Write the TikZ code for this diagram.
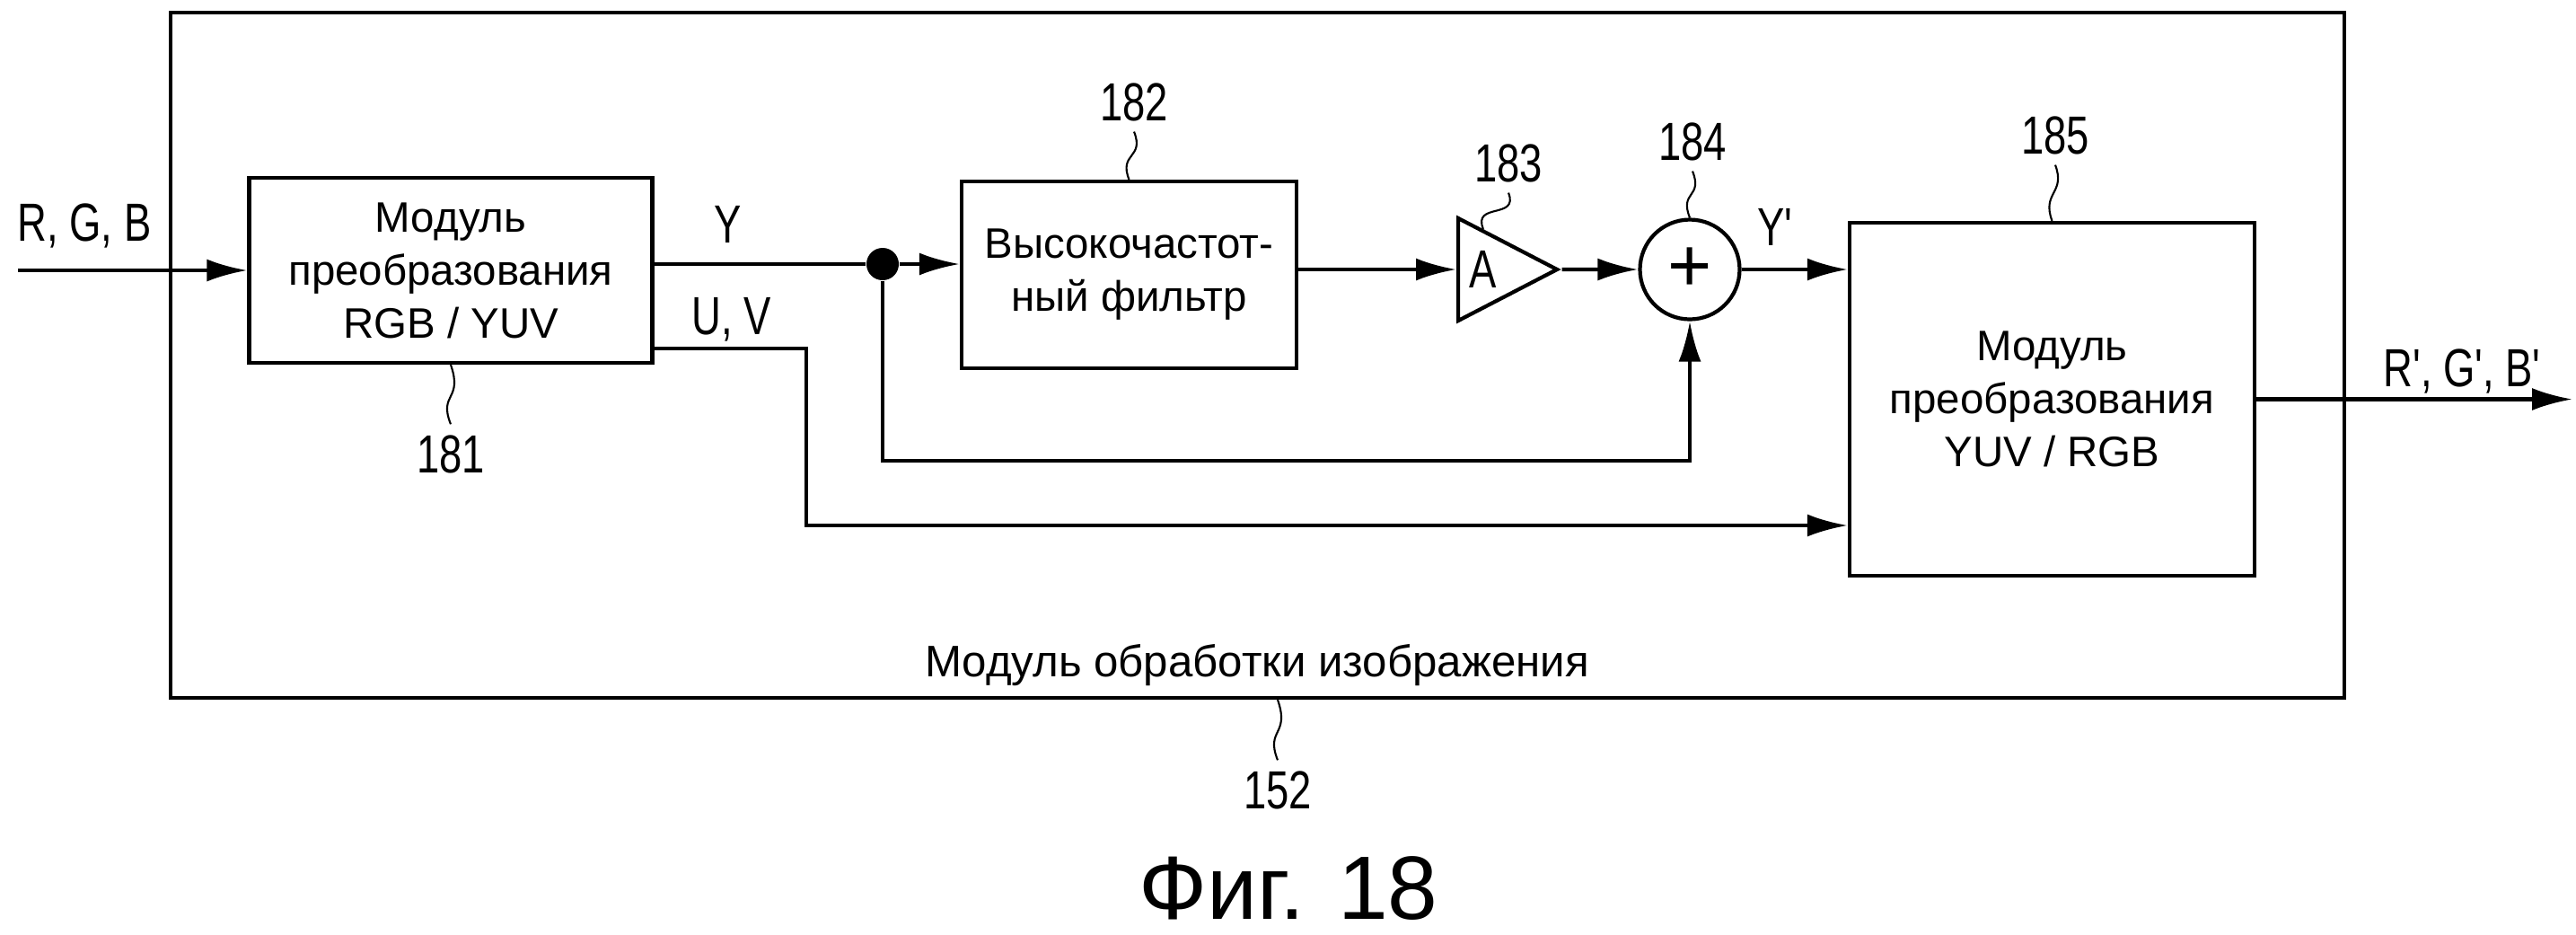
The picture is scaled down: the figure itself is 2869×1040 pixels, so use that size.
\documentclass[tikz,border=0pt]{standalone}
\usepackage{fontspec}
\setmainfont{Liberation Sans}
\newfontfamily\narrowfont[FakeStretch=0.76,Ligatures=TeXOff]{Liberation Sans}
\usetikzlibrary{shapes.geometric,positioning,arrows.meta}
\tikzset{
 b/.style
  = {rectangle, draw, line width=1.2pt, align=center,
     font=\fontsize{13.5}{16.8}\selectfont},
 amp/.style
  = {isosceles triangle, isosceles triangle stretches, draw, line width=1.2pt,
     minimum width=1.14cm, minimum height=1.10cm, inner sep=0pt,
     font=\narrowfont\fontsize{17}{17}\selectfont},
 sum/.style
  = {circle, draw, line width=1.2pt, minimum size=1.11cm, inner sep=0pt,
     font=\fontsize{24}{24}\selectfont},
 jn/.style
  = {circle, fill, minimum size=0.36cm, inner sep=0pt},
 num/.style
  = {inner sep=0pt, outer sep=1.2mm, anchor=base,
     font=\narrowfont\fontsize{17}{17}\selectfont},
 sig/.style
  = {inner sep=0pt, anchor=base, font=\narrowfont\fontsize{17}{17}\selectfont},
 l/.style
  = {draw, line width=1.2pt, -{Latex[length=4.5mm,width=2.5mm]}},
 w/.style
  = {draw, line width=1.2pt},
 ll/.style
  = {draw, line width=0.6pt},
}
\begin{document}
\begin{tikzpicture}[x=0.1mm, y=-0.1mm]
    \useasboundingbox (0,0) rectangle (2869,1040);
    \node [draw, line width=1.2pt, minimum width=24.21cm, minimum height=7.63cm] (ipm) at (1400.5,395.5) {};
    \node [b, minimum width=4.49cm, minimum height=2.06cm] (rgb) at (502,301) {Модуль\\ преобразования\\ RGB / YUV};
    \node [jn] (split) at (983,294) {};
    \node [b, minimum width=3.73cm, minimum height=2.08cm] (hpf) at (1257.5,306) {Высокочастот-\\ ный фильтр};
    \node [amp, anchor=west] (gain) at (1622,300) {A};
    \node [sum] (add) at (1882,300) {+};
    \node [b, minimum width=4.51cm, minimum height=3.93cm] (yuv) at (2285.5,444.5) {Модуль\\ преобразования\\ YUV / RGB};

    \coordinate (in) at (20,301);
    \coordinate (out) at (2865,444.5);
    \coordinate (fb) at (983,513);
    \coordinate (uv1) at (898,388);
    \coordinate (uv2) at (898,585);

    \node [sig] (lrgb) at (94,268) {R, G, B};
    \node [sig] (ly) at (811,270) {Y};
    \node [sig] (luv) at (815,372) {U, V};
    \node [sig] (lyp) at (1977,273) {Y'};
    \node [sig] (lout) at (2742,430) {R', G', B'};

    \node [num] (n181) at (502,526) {181};
    \node [num] (n182) at (1263,134) {182};
    \node [num] (n183) at (1680,202) {183};
    \node [num] (n184) at (1885,178) {184};
    \node [num] (n185) at (2289,171) {185};
    \node [num] (n152) at (1423,900) {152};
    \node [anchor=base, inner sep=0pt, font=\fontsize{14}{14}\selectfont] (title) at (1400,753) {Модуль обработки изображения};
    \node [anchor=base, inner sep=0pt, font=\fontsize{28.5}{28.5}\selectfont] (fig) at (1435,1023) {Фиг. 18};

    \path [l] (in) -- (rgb);
    \path [w] (rgb.east |- split) -- (split);
    \path [l] (split) -- (hpf.west |- split);
    \path [l] (hpf.east |- gain.west) -- (gain.west);
    \path [l] (gain.apex) -- (add);
    \path [l] (add) -- (yuv.west |- add);
    \path [l] (split) -- (fb) -| (add.south);
    \path [l] (rgb.east |- uv1) -- (uv1) -- (uv2) -- (yuv.west |- uv2);
    \path [l] (yuv) -- (out);

    \path [ll] (rgb.south) .. controls +(14,40) and +(-14,-35) .. (n181.north);
    \path [ll] (hpf.north) .. controls +(-12,-30) and +(12,30) .. (n182.south);
    \path [ll] (gain.north) .. controls +(-12,-30) and +(12,30) .. (n183.south);
    \path [ll] (add.north) .. controls +(-12,-30) and +(12,30) .. (n184.south);
    \path [ll] (yuv.north) .. controls +(-12,-32) and +(12,32) .. (n185.south);
    \path [ll] (n152 |- ipm.south) .. controls +(14,40) and +(-14,-35) .. (n152.north);
  \end{tikzpicture}
\end{document}
